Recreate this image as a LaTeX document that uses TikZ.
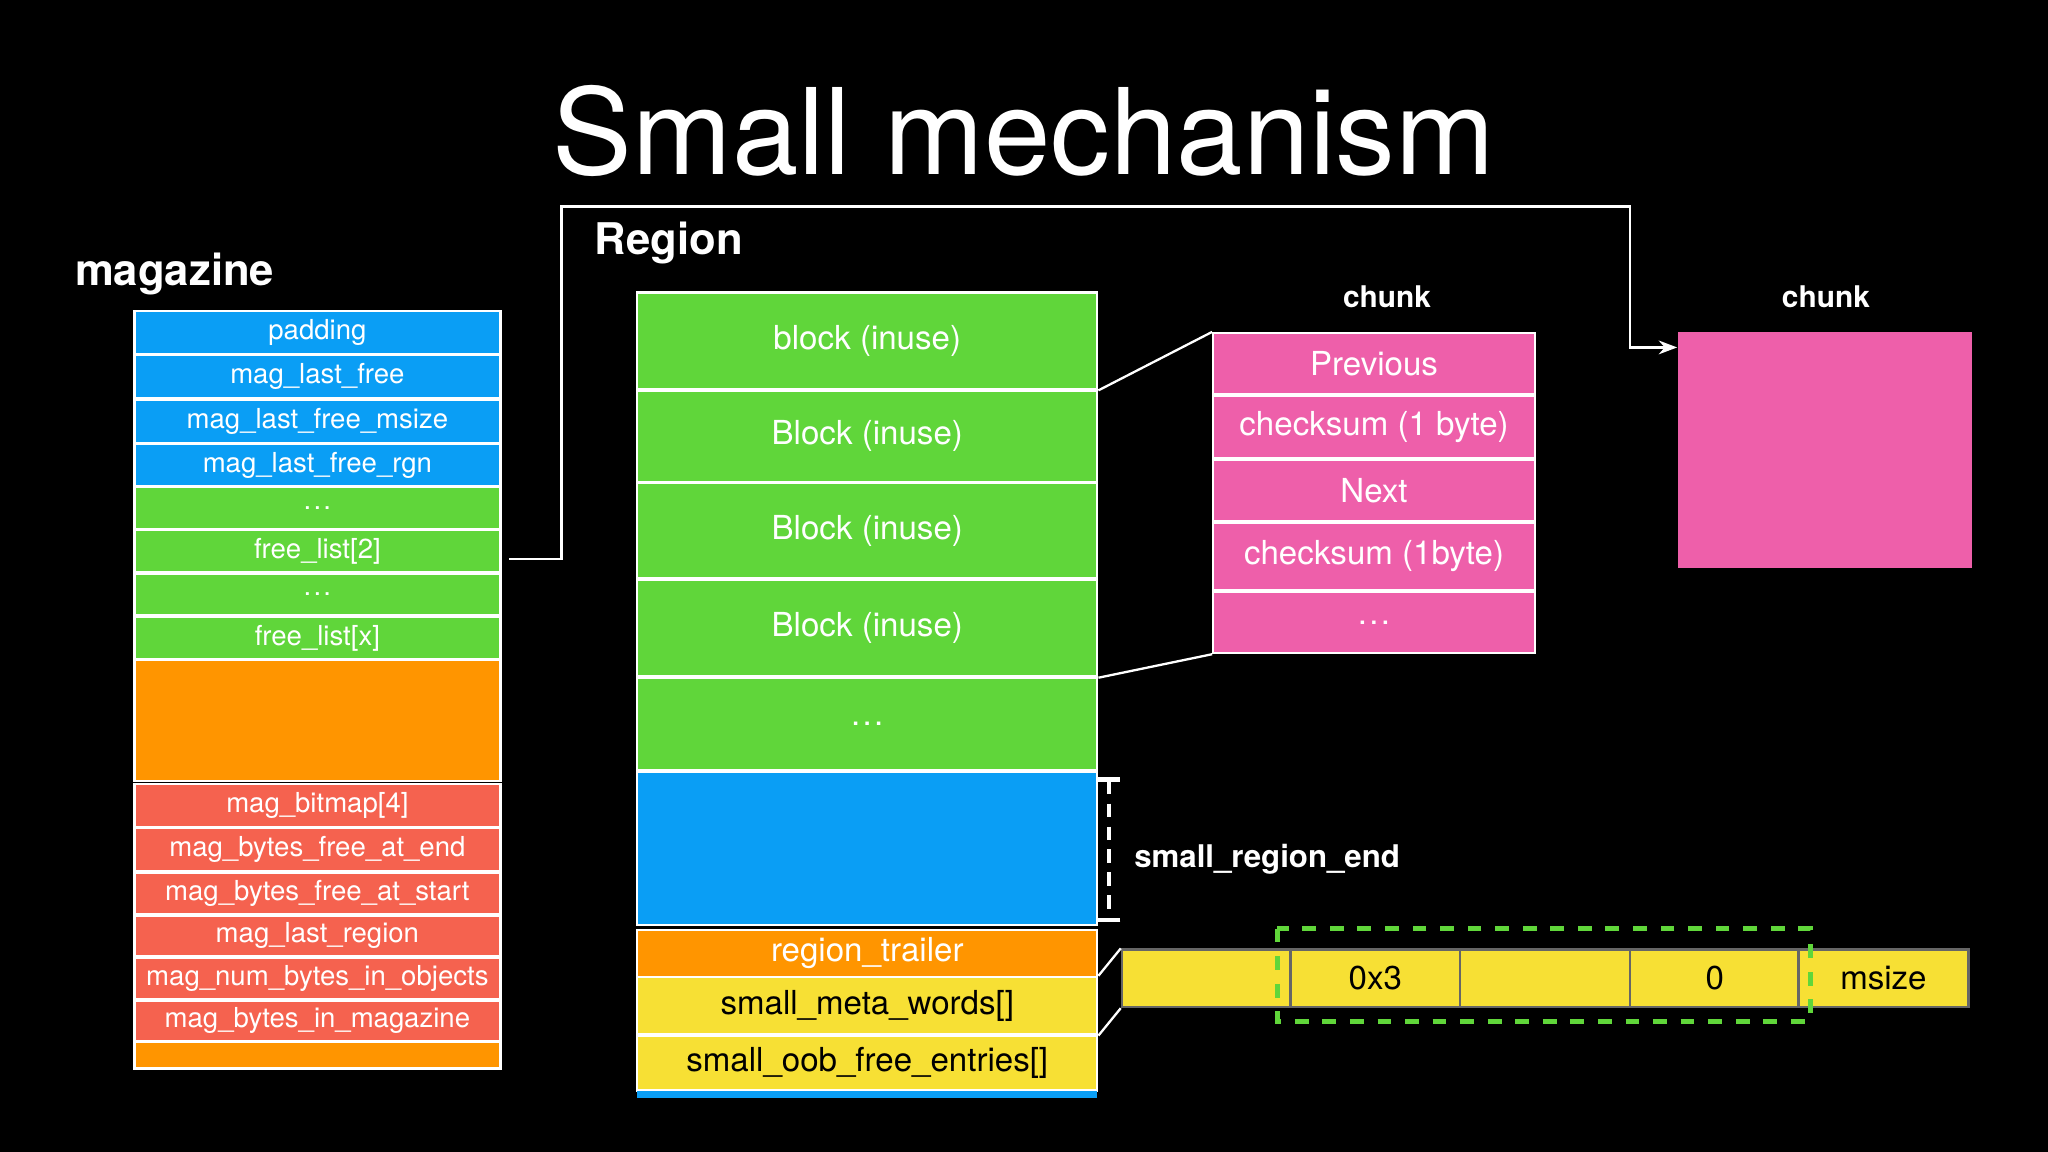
\documentclass[tikz,border=0pt]{standalone}
\usepackage{fontspec}
\setmainfont{TeX Gyre Heros}
\usetikzlibrary{arrows.meta}
\definecolor{cblue}{HTML}{0A9EF5}
\definecolor{cgreen}{HTML}{60D63A}
\definecolor{corange}{HTML}{FF9500}
\definecolor{cred}{HTML}{F5624F}
\definecolor{cpink}{HTML}{EE5FAA}
\definecolor{cyellow}{HTML}{F7E034}
\newcommand{\dd}{.\kern0.5pt.\kern0.5pt.}
\tikzset{
  cell/.style={draw=white, line width=0.5pt, inner sep=0pt, text=white},
  magcell/.style={cell, minimum width=2.8cm, font=\fontsize{6}{7}\selectfont},
  regcell/.style={cell, minimum width=3.52cm, font=\fontsize{7.2}{8}\selectfont},
  chkcell/.style={cell, minimum width=2.46cm, font=\fontsize{7.2}{8}\selectfont},
  barcell/.style={cell, fill=cyellow, draw=black!60, minimum width=1.3cm, minimum height=0.44cm, text=black, font=\fontsize{7.2}{8}\selectfont},
  heading/.style={text=white, anchor=west, font=\bfseries\fontsize{9.5}{11}\selectfont},
  link/.style={white, line width=0.5pt}
}
\begin{document}
\begin{tikzpicture}[x=0.01cm, y=-0.01cm]
  \fill[black] (0,0) rectangle (1568,882);
  \node[text=white, font=\fontsize{26}{30}\selectfont] (title) at (784,100) {Small mechanism};

  % magazine
  \node[heading] (maglabel) at (45,210) {magazine};
  \foreach \nm/\yc/\hh/\col/\txt in {
    m1/254.5/33/cblue/padding, m2/288.5/33/cblue/mag\_last\_free,
    m3/322.5/33/cblue/mag\_last\_free\_msize, m4/356/32/cblue/mag\_last\_free\_rgn,
    m5/389/32/cgreen/\dd, m6/422/32/cgreen/free\_list[2], m7/455/32/cgreen/\dd,
    m8/488.5/33/cgreen/free\_list[x], m9/551.5/93/corange/,
    m10/616.5/33/cred/mag\_bitmap[4], m11/650.5/33/cred/mag\_bytes\_free\_at\_end,
    m12/684/32/cred/mag\_bytes\_free\_at\_start, m13/716.5/31/cred/mag\_last\_region,
    m14/749/32/cred/mag\_num\_bytes\_in\_objects, m15/781.5/31/cred/mag\_bytes\_in\_magazine,
    m16/808/20/corange/}
    \node[magcell, fill=\col, minimum height=\hh*0.01cm] (\nm) at (243,\yc) {\txt};

  % region
  \node[heading] (reglabel) at (443,186) {Region};
  \foreach \nm/\yc/\hh/\col/\txt in {
    r1/261/74/cgreen/block (inuse), r2/334/70/cgreen/Block (inuse),
    r3/406.5/73/cgreen/Block (inuse), r4/481/74/cgreen/Block (inuse),
    r5/554.5/71/cgreen/\dd, r6/649.5/117/cblue/, r7/730/36/corange/region\_trailer}
    \node[regcell, fill=\col, minimum height=\hh*0.01cm] (\nm) at (664,\yc) {\txt};
  \node[regcell, fill=cyellow, text=black, minimum height=0.44cm] (r8) at (664,770) {small\_meta\_words[]};
  \node[regcell, fill=cyellow, text=black, minimum height=0.42cm] (r9) at (664,814) {small\_oob\_free\_entries[]};
  \node[regcell, fill=cblue, draw=none, minimum height=0.06cm] (r10) at (664,838) {};

  % chunks
  \node[text=white, font=\bfseries\fontsize{6.5}{8}\selectfont] (chk1label) at (1062,227) {chunk};
  \node[text=white, font=\bfseries\fontsize{6.5}{8}\selectfont] (chk2label) at (1398,227) {chunk};
  \foreach \nm/\yc/\hh/\txt in {
    c1/278.5/47/Previous, c2/327/48/checksum (1 byte), c3/375.5/47/Next,
    c4/426/52/checksum (1byte), c5/476.5/47/\dd}
    \node[chkcell, fill=cpink, minimum height=\hh*0.01cm] (\nm) at (1052,\yc) {\txt};
  \node[cell, draw=none, fill=cpink, minimum width=2.25cm, minimum height=1.81cm] (c6) at (1397.5,344.5) {};

  \draw[link] (r1.south east) -- (c1.north west);
  \draw[link] (r4.south east) -- (c5.south west);
  \coordinate (fl) at (390,428);
  \draw[link, -{Stealth[length=4pt]}] (fl) -- (430,428) -- (430,158) -- (1248,158) -- (1248,266) -- (c6.west |- 0,266);

  % small_region_end
  \coordinate (e1) at (849,595);
  \coordinate (e2) at (849,706);
  \draw[white, line width=1pt, densely dashed, {Bar[width=5pt]}-{Bar[width=5pt]}] (e1) -- (e2);
  \node[text=white, anchor=west, font=\bfseries\fontsize{6.8}{8}\selectfont] (sre) at (856,658) {small\_region\_end};

  % msize bar
  \foreach \nm/\xc/\txt in {b1/924/, b2/1053/0x3, b3/1183/, b4/1313/0, b5/1442/msize}
    \node[barcell] (\nm) at (\xc,749) {\txt};
  \draw[cgreen, line width=1.2pt, dashed] (978,711) rectangle (1386,782);
  \draw[link] (r8.north east) -- (b1.north west);
  \draw[link] (r8.south east) -- (b1.south west);
\end{tikzpicture}
\end{document}
